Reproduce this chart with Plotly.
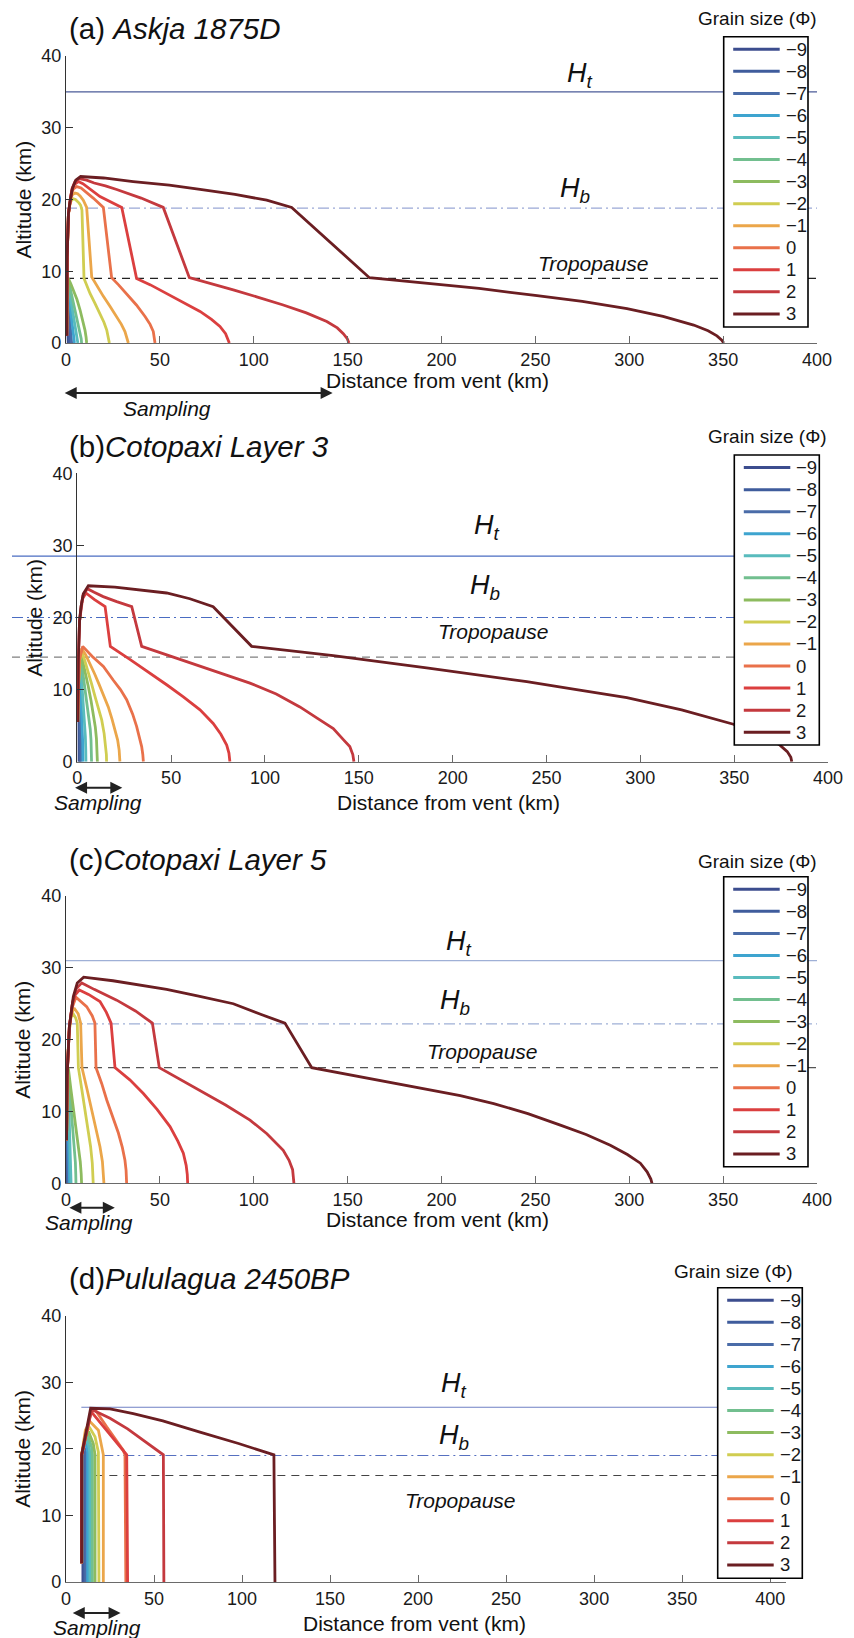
import plotly.graph_objects as go

FIG_W, FIG_H = 854, 1638
FONT = "Liberation Sans, Arial, Helvetica, sans-serif"

# Grain sizes (phi) and their colours
PHI_TEXT = ["−9", "−8", "−7", "−6", "−5", "−4", "−3", "−2", "−1", "0", "1", "2", "3"]
PHI_COLORS = ["#3c4d8e", "#3f5c9c", "#4a6ca8", "#3ea4cf", "#59bbbd", "#72bf8f", "#8dbb5f",
              "#d0cd51", "#eba64a", "#e9714a", "#db3f3f", "#c4393e", "#6b1e22"]

# (a) Askja 1875D: particle trajectories, distance (km) / altitude (km), one list per grain size
ASKJA_X = [
    [0.3, 0.5, 0.9, 1.2],
    [0.3, 0.6, 1.3, 1.9],
    [0.3, 0.7, 1.2, 1.6, 2.1, 2.5, 2.8, 3.0],
    [0.3, 0.8, 1.5, 2.2, 3.0, 3.7, 4.2, 4.5],
    [0.3, 0.9, 1.7, 2.6, 3.6, 4.6, 5.4, 5.8, 6.2, 6.3],
    [0.3, 1.0, 2.0, 3.2, 4.6, 5.8, 6.9, 7.6, 8.1, 8.3],
    [0.3, 1.2, 2.5, 3.9, 5.8, 7.5, 9.0, 10.1, 10.7, 11.0],
    [0.4, 0.6, 1.3, 2.2, 3.0, 3.9, 5.0, 6.0, 7.0, 7.8, 8.5, 9.6, 11.0, 12.8, 15.5, 18.1,
     20.2, 21.7, 22.6, 23.1],
    [0.4, 0.6, 1.3, 2.5, 3.5, 4.8, 6.2, 7.5, 9.2, 11.0, 13.7, 16.5, 19.9, 23.5, 27.0, 29.5,
     31.4, 32.6, 33.2],
    [0.4, 0.6, 1.3, 2.8, 4.0, 5.7, 8.0, 10.0, 14.5, 19.9, 24.3, 28.0, 32.3, 37.5, 42.1, 44.8,
     46.5, 47.2, 47.4],
    [0.4, 0.6, 1.3, 3.0, 4.5, 6.6, 9.0, 12.0, 18.1, 29.7, 37.6, 45.0, 53.6, 63.0, 71.4, 77.5,
     82.0, 85.0, 86.5, 87.0],
    [0.4, 0.6, 1.3, 3.2, 4.8, 7.1, 11.0, 15.0, 21.0, 27.0, 40.0, 51.8, 65.7, 77.0, 89.1, 102.0,
     115.7, 128.0, 138.9, 144.5, 147.7, 149.8, 150.7],
    [0.4, 0.6, 1.3, 2.1, 3.5, 5.2, 7.8, 20.0, 35.8, 55.0, 71.4, 90.0, 106.9, 120.2, 161.6,
     192.3, 220.0, 250.9, 275.0, 298.8, 318.0, 334.3, 342.0, 346.7, 349.3, 350.3],
]
ASKJA_Z = [
    [1.0, 5.0, 2.5, 0.0],
    [1.0, 6.0, 3.0, 0.0],
    [1.0, 7.0, 5.8, 4.5, 3.2, 2.0, 1.0, 0.0],
    [1.0, 8.0, 6.6, 5.0, 3.4, 2.0, 0.9, 0.0],
    [1.0, 8.6, 7.4, 6.0, 4.5, 3.0, 1.9, 1.2, 0.5, 0.0],
    [1.0, 8.9, 7.9, 6.5, 5.0, 3.5, 2.3, 1.4, 0.6, 0.0],
    [1.0, 9.0, 8.3, 7.4, 6.1, 4.6, 3.1, 1.8, 0.8, 0.0],
    [1.0, 12.0, 18.0, 19.5, 19.9, 20.1, 20.0, 19.8, 19.5, 19.2, 18.5, 9.0, 8.0, 6.9, 5.5, 4.1,
     2.9, 1.8, 0.8, 0.0],
    [1.0, 12.0, 18.0, 20.2, 20.7, 20.9, 20.8, 20.5, 19.9, 18.9, 9.2, 7.9, 6.5, 5.1, 3.7, 2.6,
     1.6, 0.7, 0.0],
    [1.0, 12.0, 18.0, 20.8, 21.5, 21.8, 21.6, 21.2, 20.2, 18.9, 9.1, 8.1, 6.9, 5.3, 3.7, 2.6,
     1.6, 0.7, 0.0],
    [1.0, 12.0, 18.0, 21.2, 22.1, 22.5, 22.2, 21.6, 20.4, 18.9, 9.0, 8.1, 6.9, 5.6, 4.4, 3.3,
     2.3, 1.3, 0.5, 0.0],
    [1.0, 12.0, 18.0, 21.5, 22.5, 22.9, 22.7, 22.3, 21.9, 21.4, 20.2, 18.9, 9.1, 8.3, 7.4, 6.4,
     5.3, 4.2, 3.0, 2.1, 1.3, 0.6, 0.0],
    [1.0, 12.0, 18.0, 19.7, 21.6, 22.7, 23.2, 23.0, 22.5, 22.0, 21.4, 20.7, 19.9, 18.9, 9.1,
     8.3, 7.6, 6.6, 5.8, 4.8, 3.7, 2.5, 1.7, 1.0, 0.4, 0.0],
]

# (b) Cotopaxi Layer 3
COTO3_X = [
    [0.2, 0.4, 0.7, 0.8, 0.9, 0.9],
    [0.2, 0.5, 0.9, 1.1, 1.3, 1.4],
    [0.2, 0.5, 1.1, 1.4, 1.8, 2.0],
    [0.2, 0.5, 1.3, 1.8, 2.2, 2.5, 2.8, 2.9, 3.0],
    [0.2, 0.5, 1.5, 1.9, 2.3, 2.9, 3.5, 4.0, 4.3, 4.5, 4.6],
    [0.2, 0.5, 1.7, 2.4, 3.2, 4.3, 5.3, 6.2, 6.9, 7.3, 7.5, 7.6],
    [0.2, 0.5, 1.9, 3.0, 4.3, 5.8, 7.3, 8.6, 9.6, 10.2, 10.5, 10.7],
    [0.2, 0.5, 1.2, 2.1, 3.8, 5.5, 7.5, 9.5, 11.4, 13.0, 14.3, 15.2, 15.5, 15.6],
    [0.2, 0.5, 1.2, 2.3, 4.5, 6.8, 9.2, 11.5, 14.2, 16.5, 18.5, 20.2, 21.5, 22.3, 22.7],
    [0.2, 0.5, 1.2, 2.9, 8.0, 13.9, 19.2, 23.0, 26.3, 29.5, 31.6, 33.3, 34.3, 34.9, 35.2],
    [0.2, 0.5, 1.2, 2.0, 2.8, 4.6, 9.0, 14.8, 17.6, 28.0, 38.7, 48.0, 56.5, 65.4, 72.4, 76.5,
     79.6, 80.8, 81.3],
    [0.2, 0.5, 1.2, 2.0, 3.0, 5.3, 9.0, 13.8, 21.0, 29.0, 34.3, 50.0, 65.4, 80.0, 92.0, 106.0,
     118.6, 128.0, 136.4, 142.0, 145.2, 146.8, 147.4],
    [0.2, 0.5, 1.2, 2.0, 3.2, 5.9, 20.0, 35.0, 47.6, 60.0, 72.4, 92.9, 136.4, 186.1, 212.0,
     239.5, 266.0, 292.8, 322.0, 349.6, 360.0, 368.0, 374.4, 378.3, 380.2, 380.7],
]
COTO3_Z = [
    [5.5, 9.0, 11.0, 7.0, 3.0, 0.0],
    [5.5, 10.0, 12.0, 8.0, 4.0, 0.0],
    [5.5, 10.0, 13.0, 9.5, 5.0, 0.0],
    [5.5, 10.0, 13.8, 10.5, 8.2, 6.0, 3.8, 2.5, 0.0],
    [5.5, 10.0, 14.4, 13.0, 11.5, 9.5, 7.5, 5.5, 3.5, 1.7, 0.0],
    [5.5, 10.0, 14.8, 13.5, 12.0, 10.0, 8.0, 6.2, 4.5, 3.0, 1.8, 0.0],
    [5.5, 10.0, 15.1, 13.9, 12.5, 10.5, 8.5, 6.6, 4.8, 3.2, 2.0, 0.0],
    [5.5, 10.0, 14.0, 15.4, 14.2, 12.8, 10.9, 9.0, 7.3, 5.8, 3.9, 2.1, 1.0, 0.0],
    [5.5, 10.0, 14.0, 15.7, 14.8, 13.6, 12.2, 10.8, 9.2, 7.6, 5.9, 4.3, 3.0, 1.6, 0.0],
    [5.5, 10.0, 14.2, 16.0, 14.6, 13.2, 11.3, 10.0, 8.6, 6.6, 4.9, 3.2, 2.1, 1.0, 0.0],
    [5.5, 14.0, 19.5, 21.5, 22.6, 23.4, 22.5, 21.5, 16.0, 14.2, 12.3, 10.6, 9.0, 7.2, 5.3, 3.8,
     2.3, 1.2, 0.0],
    [5.5, 14.0, 19.5, 21.5, 23.0, 24.0, 23.5, 22.9, 22.2, 21.5, 16.0, 14.6, 13.2, 12.0, 10.9,
     9.4, 7.6, 6.0, 4.6, 3.0, 2.1, 1.0, 0.0],
    [5.5, 14.0, 19.5, 21.5, 23.3, 24.4, 24.2, 23.8, 23.4, 22.6, 21.5, 16.0, 14.7, 13.0, 12.1,
     11.1, 10.0, 8.9, 7.2, 5.2, 4.1, 3.3, 2.3, 1.4, 0.6, 0.0],
]

# (c) Cotopaxi Layer 5
COTO5_X = [
    [0.3, 0.4, 0.5, 0.5],
    [0.3, 0.5, 0.7, 0.8],
    [0.3, 0.6, 0.9, 1.2, 1.3],
    [0.3, 0.7, 1.2, 1.7, 1.9],
    [0.3, 0.6, 0.9, 1.7, 2.4, 2.7],
    [0.3, 0.6, 1.1, 2.0, 2.8, 3.8, 4.5, 5.0, 5.2, 5.3],
    [0.3, 0.6, 1.2, 2.6, 4.0, 5.5, 6.8, 7.6, 8.1, 8.3],
    [0.3, 0.6, 1.5, 2.5, 3.6, 5.2, 6.0, 6.6, 8.4, 10.1, 11.8, 13.1, 14.0, 14.4, 14.5],
    [0.3, 0.6, 1.6, 2.8, 4.3, 6.5, 7.8, 8.5, 11.2, 13.7, 16.0, 18.1, 19.4, 20.0, 20.2],
    [0.3, 0.6, 1.8, 3.2, 5.3, 11.0, 14.0, 15.4, 16.0, 19.0, 21.7, 25.0, 27.9, 30.0, 31.4, 32.0,
     32.3],
    [0.3, 0.6, 1.8, 3.3, 4.8, 7.1, 12.0, 18.1, 21.5, 24.0, 26.1, 34.0, 41.2, 48.5, 55.4, 59.5,
     62.5, 64.0, 64.6, 64.8],
    [0.3, 0.6, 1.8, 3.5, 5.5, 8.4, 15.0, 21.0, 27.0, 37.0, 46.0, 49.7, 60.0, 71.4, 85.0, 98.0,
     107.0, 115.7, 118.8, 120.7, 121.2, 121.4],
    [0.3, 0.6, 1.8, 3.9, 6.0, 9.4, 25.0, 40.0, 53.6, 70.0, 89.1, 104.0, 116.6, 130.9, 145.0,
     160.2, 176.0, 192.2, 210.0, 227.8, 246.0, 263.3, 277.0, 289.9, 299.0, 305.9, 309.5, 311.5,
     312.1],
]
COTO5_Z = [
    [6.0, 7.5, 4.0, 0.0],
    [6.0, 8.5, 5.0, 0.0],
    [6.0, 10.0, 6.0, 2.5, 0.0],
    [6.0, 12.0, 8.0, 3.5, 0.0],
    [6.0, 11.0, 14.0, 9.0, 4.0, 0.0],
    [6.0, 12.0, 15.5, 12.7, 10.0, 7.4, 5.0, 2.9, 1.3, 0.0],
    [6.0, 12.0, 16.1, 13.1, 10.2, 7.6, 5.1, 3.0, 1.3, 0.0],
    [6.0, 15.0, 20.5, 23.0, 23.7, 23.0, 22.3, 16.1, 13.1, 10.2, 7.6, 5.1, 2.8, 1.2, 0.0],
    [6.0, 15.0, 21.0, 23.5, 24.4, 23.6, 22.3, 16.1, 13.1, 10.2, 7.6, 5.1, 3.0, 1.4, 0.0],
    [6.0, 15.0, 21.8, 24.4, 25.9, 24.6, 23.3, 22.3, 16.1, 13.9, 11.6, 9.2, 7.0, 5.0, 3.2, 1.8,
     0.0],
    [6.0, 15.0, 21.8, 24.8, 26.2, 26.9, 26.3, 25.3, 23.8, 22.3, 16.1, 14.4, 12.5, 10.3, 7.9,
     5.9, 4.2, 2.5, 1.2, 0.0],
    [6.0, 15.0, 21.8, 25.2, 27.1, 27.9, 27.0, 26.3, 25.5, 24.0, 22.3, 16.1, 14.6, 13.0, 10.9,
     8.8, 6.9, 4.6, 3.2, 1.9, 0.9, 0.0],
    [6.0, 15.0, 21.8, 26.0, 27.9, 28.7, 28.2, 27.6, 27.0, 26.1, 25.0, 23.5, 22.3, 16.1, 15.4,
     14.6, 13.9, 13.1, 12.2, 11.1, 9.7, 8.1, 6.8, 5.3, 4.0, 2.8, 1.6, 0.6, 0.0],
]

# (d) Pululagua 2450BP
PULU_X = [
    [8.9, 8.9, 9.4, 9.6, 9.6],
    [8.9, 8.9, 9.9, 10.3, 10.3],
    [8.9, 8.9, 10.2, 11.2, 11.2],
    [8.9, 8.9, 10.2, 11.8, 12.3, 12.3],
    [8.9, 8.9, 10.4, 12.1, 13.3, 13.6, 13.6],
    [8.9, 8.9, 10.5, 12.4, 14.5, 15.0, 15.0],
    [8.9, 8.9, 10.6, 12.8, 15.5, 16.5, 16.5],
    [8.9, 8.9, 10.8, 13.2, 16.5, 18.4, 18.7],
    [8.9, 8.9, 11.0, 13.6, 18.4, 21.2, 21.2],
    [8.9, 8.9, 14.0, 16.5, 23.1, 32.5, 33.5, 34.0],
    [8.9, 8.9, 14.3, 24.0, 34.5, 35.0],
    [8.9, 8.9, 14.6, 25.0, 35.0, 55.3, 55.6],
    [8.9, 8.9, 14.0, 25.0, 38.2, 55.0, 76.1, 98.0, 118.1, 118.7],
]
PULU_Z = [
    [2.8, 19.1, 19.4, 19.0, 0.0],
    [2.8, 19.1, 19.9, 19.3, 0.0],
    [2.8, 19.1, 20.3, 19.5, 0.0],
    [2.8, 19.1, 20.3, 20.8, 19.5, 0.0],
    [2.8, 19.1, 20.6, 21.4, 20.0, 19.1, 0.0],
    [2.8, 19.1, 21.0, 22.0, 20.3, 19.1, 0.0],
    [2.8, 19.1, 21.5, 22.6, 20.8, 19.1, 0.0],
    [2.8, 19.1, 22.0, 23.3, 21.8, 19.5, 0.0],
    [2.8, 19.1, 22.8, 24.1, 22.8, 19.1, 0.0],
    [2.8, 19.1, 25.5, 25.9, 23.3, 19.8, 19.1, 0.0],
    [2.8, 19.1, 25.6, 22.5, 19.1, 0.0],
    [2.8, 19.1, 25.9, 24.6, 23.0, 19.1, 0.0],
    [2.8, 19.1, 26.1, 26.0, 25.3, 24.2, 22.5, 20.8, 19.1, 0.0],
]

TITLE_TAGS = ["(a) ", "(b)", "(c)", "(d)"]
TITLE_NAMES = ["Askja 1875D", "Cotopaxi Layer 3", "Cotopaxi Layer 5", "Pululagua 2450BP"]
H_TOP = [35.0, 28.5, 31.0, 26.25]      # umbrella top height Ht (km)
H_BASE = [18.8, 20.0, 22.2, 19.0]      # umbrella base height Hb (km)
TROPOPAUSE = [9.0, 14.5, 16.1, 16.0]   # tropopause altitude (km)
SAMPLING_KM = [(-1.5, 142.0), (-2.0, 24.0), (1.0, 26.0), (3.0, 31.0)]
X_MAX = [400, 400, 400, 409]
X_TICKS = [0, 50, 100, 150, 200, 250, 300, 350, 400]
Y_TICKS = [0, 10, 20, 30, 40]

TRAJECTORIES = [(ASKJA_X, ASKJA_Z), (COTO3_X, COTO3_Z), (COTO5_X, COTO5_Z), (PULU_X, PULU_Z)]

# ---- layout geometry (pixels in the 854 x 1638 page) ----
PANEL_PX = [(66, 817, 56, 343), (77.3, 828, 473.3, 761.7),
            (66, 817, 896, 1183.3), (66, 786, 1315.7, 1582)]
LEGEND_BOX_PX = [(723.7, 36.7, 808.0, 327.0), (734.3, 455.0, 819.3, 745.0),
                 (723.7, 876.7, 808.0, 1166.7), (717.7, 1287.7, 802.3, 1578.3)]
LEGEND_ROW0, LEGEND_PITCH = 12.6, 22.05
LEGEND_LINE_X, LEGEND_TEXT_X = (9.5, 56.0), 60.0
LEGEND_TITLE_PX = [(757, 19), (767, 436.7), (757, 861.7), (733.7, 1271.7)]
TITLE_PX = [(67, 28), (67, 447), (67, 859), (67, 1278)]
LINE_SPAN = [(0.0, 1.0), (-0.087, 0.9), (0.0, 1.0), (0.0213, 0.905)]
LINE_COLORS = [("#4b5b98", "#9aa8d6", "#222222"), ("#4a6cc2", "#4a6cc2", "#808080"),
               ("#9fb0d6", "#9fb0d6", "#555555"), ("#6f80c4", "#5670c0", "#444444")]
HT_LABEL = [(273.8, 37.4), (218.2, 32.6), (209.3, 33.5), (220.3, 29.6)]
HB_LABEL = [(271.0, 21.3), (217.0, 24.2), (207.2, 25.3), (220.3, 21.8)]
TROPO_LABEL = [(281.2, 11.1), (221.9, 18.1), (222.1, 18.3), (224.3, 12.3)]
ARROW_DY = [50, 26, 24.4, 31]
SAMPLING_TEXT = [(53.8, 65), (11.0, 41), (12.0, 39), (17.6, 45)]
XTITLE_DY = [37, 41, 36, 41]

fig = go.Figure()

for p, (xs_all, zs_all) in enumerate(TRAJECTORIES):
    sfx = "" if p == 0 else str(p + 1)
    for k in range(len(PHI_TEXT)):
        fig.add_trace(go.Scatter(
            x=xs_all[k], y=zs_all[k], mode="lines",
            line=dict(color=PHI_COLORS[k], width=2.8),
            name=PHI_TEXT[k], xaxis="x" + sfx, yaxis="y" + sfx,
            showlegend=False, hoverinfo="skip"))

layout = dict(
    width=FIG_W, height=FIG_H,
    margin=dict(l=0, r=0, t=0, b=0, autoexpand=False),
    paper_bgcolor="white", plot_bgcolor="white",
    font=dict(family=FONT, color="#1a1a1a"),
    showlegend=False, hovermode=False,
)

annotations = []
shapes = []


def px_x(v):
    return v / FIG_W


def px_y(v):
    return 1 - v / FIG_H


for p, (l, r, t, b) in enumerate(PANEL_PX):
    sfx = "" if p == 0 else str(p + 1)
    xa, ya = "x" + sfx, "y" + sfx
    layout["xaxis" + sfx] = dict(
        domain=[px_x(l), px_x(r)], anchor=ya, range=[0, X_MAX[p]],
        tickmode="array", tickvals=X_TICKS, ticks="inside", ticklen=7, tickwidth=1.2,
        tickcolor="#6a6a6a", showline=True, linecolor="#6a6a6a", linewidth=1.3,
        showgrid=False, zeroline=False, tickfont=dict(family=FONT, size=18, color="#1a1a1a"))
    layout["yaxis" + sfx] = dict(
        domain=[px_y(b), px_y(t)], anchor=xa, range=[0, 40],
        tickmode="array", tickvals=Y_TICKS, ticks="inside", ticklen=7, tickwidth=1.2,
        tickcolor="#333333", showline=True, linecolor="#333333", linewidth=1.3,
        showgrid=False, zeroline=False, tickfont=dict(family=FONT, size=18, color="#1a1a1a"))

    # reference altitudes: Ht (solid), Hb (dash-dot), tropopause (dashed)
    x0, x1 = LINE_SPAN[p]
    c_top, c_base, c_trop = LINE_COLORS[p]
    for h, c, dash in [(H_TOP[p], c_top, "solid"),
                       (H_BASE[p], c_base, "11px,4px,2px,4px"),
                       (TROPOPAUSE[p], c_trop, "8px,6px")]:
        shapes.append(dict(type="line", xref=xa + " domain", x0=x0, x1=x1,
                           yref=ya, y0=h, y1=h, layer="below",
                           line=dict(color=c, width=1.2, dash=dash)))

    # grain-size key: framed box with one coloured sample line per phi class
    bx0, by0, bx1, by1 = LEGEND_BOX_PX[p]
    shapes.append(dict(type="rect", xref="paper", yref="paper",
                       x0=px_x(bx0), x1=px_x(bx1), y0=px_y(by1), y1=px_y(by0),
                       fillcolor="white", line=dict(color="black", width=1.6), layer="above"))
    for k, (lab, col) in enumerate(zip(PHI_TEXT, PHI_COLORS)):
        yc = by0 + LEGEND_ROW0 + k * LEGEND_PITCH
        shapes.append(dict(type="line", xref="paper", yref="paper",
                           x0=px_x(bx0 + LEGEND_LINE_X[0]), x1=px_x(bx0 + LEGEND_LINE_X[1]),
                           y0=px_y(yc), y1=px_y(yc), layer="above",
                           line=dict(color=col, width=3)))
        annotations.append(dict(text=lab, xref="paper", yref="paper",
                                x=px_x(bx0 + LEGEND_TEXT_X), y=px_y(yc),
                                xanchor="left", yanchor="middle", showarrow=False,
                                font=dict(family=FONT, size=18.5, color="#1a1a1a")))

    # panel title
    tx, ty = TITLE_PX[p]
    annotations.append(dict(
        text=TITLE_TAGS[p] + "<i>" + TITLE_NAMES[p] + "</i>",
        xref="paper", yref="paper", x=px_x(tx), y=px_y(ty),
        xanchor="left", yanchor="middle", showarrow=False,
        font=dict(family=FONT, size=29.5, color="#111")))

    # key heading
    gx, gy = LEGEND_TITLE_PX[p]
    annotations.append(dict(
        text="Grain size (Φ)", xref="paper", yref="paper", x=px_x(gx), y=px_y(gy),
        xanchor="center", yanchor="middle", showarrow=False,
        font=dict(family=FONT, size=19, color="#111")))

    # level labels
    for (lxk, lzk), txt, fs in [(HT_LABEL[p], "<i>H<sub>t</sub></i>", 27),
                                (HB_LABEL[p], "<i>H<sub>b</sub></i>", 27),
                                (TROPO_LABEL[p], "<i>Tropopause</i>", 21)]:
        annotations.append(dict(text=txt, xref=xa, yref=ya, x=lxk, y=lzk,
                                xanchor="center", yanchor="middle", showarrow=False,
                                font=dict(family=FONT, size=fs, color="#111")))

    # sampling range arrow and label
    s0, s1 = SAMPLING_KM[p]
    annotations.append(dict(
        text="", xref=xa, x=s1, yref=ya + " domain", y=0,
        axref=xa, ax=s0, ayref=ya + " domain", ay=0, yshift=-ARROW_DY[p],
        showarrow=True, arrowhead=2, arrowside="end+start", arrowsize=1.2,
        arrowwidth=2, arrowcolor="#222"))
    sx, sdy = SAMPLING_TEXT[p]
    annotations.append(dict(
        text="<i>Sampling</i>", xref=xa, x=sx, yref=ya + " domain", y=0,
        yshift=-sdy, xanchor="center", yanchor="middle", showarrow=False,
        font=dict(family=FONT, size=21, color="#111")))

    # axis titles
    annotations.append(dict(
        text="Distance from vent (km)", xref=xa, x=198, yref=ya + " domain", y=0,
        yshift=-XTITLE_DY[p], xanchor="center", yanchor="middle", showarrow=False,
        font=dict(family=FONT, size=21, color="#111")))
    annotations.append(dict(
        text="Altitude (km)", textangle=-90, xref=xa + " domain", x=0, xshift=-43,
        yref=ya, y=20, xanchor="center", yanchor="middle", showarrow=False,
        font=dict(family=FONT, size=21, color="#111")))

layout["annotations"] = annotations
layout["shapes"] = shapes
fig.update_layout(**layout)

fig.write_html("out.html")
